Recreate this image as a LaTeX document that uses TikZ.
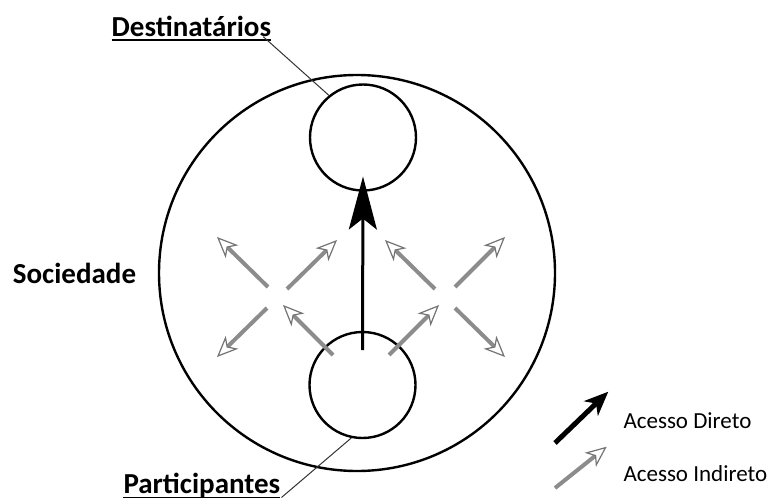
\documentclass[tikz,border=0pt]{standalone}
\usepackage{fontspec}
\setmainfont{Carlito}
\usetikzlibrary{arrows.meta,calc}
\definecolor{arrgray}{RGB}{140,140,140}
\definecolor{headgray}{RGB}{115,115,115}
\begin{document}
\begin{tikzpicture}[x=1pt,y=-1pt,
  ring/.style={circle,draw=black,line width=2.4pt,inner sep=0pt},
  lbl/.style={anchor=base west,inner sep=0pt,font=\fontsize{29}{30}\selectfont\bfseries},
  leg/.style={anchor=base west,inner sep=0pt,font=\fontsize{23}{26}\selectfont},
  leader/.style={draw=black!80,line width=1pt},
  uline/.style={draw=black,line width=1.5pt},
  mainarr/.style={draw=black,line width=3pt,-{Stealth[length=53pt,width=28pt,inset=11pt]}},
  legmain/.style={draw=black,line width=5pt,-{Stealth[length=24pt,width=20pt,inset=7pt]}},
  indarr/.style={draw=arrgray,line width=4pt,-{Stealth[open,fill=white,length=21pt,width=18pt,inset=6pt,line width=1.2pt,color=headgray]}}
]
\useasboundingbox (0,0) rectangle (773,500);
% circles
\node[ring,minimum size=396pt] (soc) at (357,273) {};
\node[ring,minimum size=106pt] (top) at (363,137.5) {};
\node[ring,minimum size=106pt] (bot) at (362.5,385) {};
% labels
\node[lbl] (dest) at (111.5,36.7) {Destinatários};
\node[lbl] (part) at (123.3,493) {Participantes};
\node[lbl] (socl) at (12.7,283.3) {Sociedade};
\node[leg] (dir) at (623.3,428.3) {Acesso Direto};
\node[leg] (ind) at (623.3,481.7) {Acesso Indireto};
% underlines and leaders
\draw[uline] ($(dest.base west)+(0,3.5)$) -- ($(dest.base east)+(0,3.5)$);
\draw[uline] ($(part.base west)+(0,4.5)$) -- ($(part.base east)+(0,4.5)$);
\draw[leader] ($(dest.base east)+(-8,0)$) -- (top.129);
\draw[leader] ($(part.base east)+(1,4.5)$) -- (bot.258.5);
% direct access
\coordinate (ms) at ($(bot.center)+(0,-35)$);
\coordinate (me) at ($(top.center)+(0,39)$);
\draw[mainarr] (ms) -- (me);
% indirect access arrows
\coordinate (a1s) at (268,287); \coordinate (a1e) at (217,237);
\coordinate (a2s) at (287,289); \coordinate (a2e) at (337,240);
\coordinate (a3s) at (267,308); \coordinate (a3e) at (217,357);
\coordinate (a4s) at (333,355); \coordinate (a4e) at (283,305);
\coordinate (b1s) at (435,289); \coordinate (b1e) at (385,240);
\coordinate (b2s) at (455,287); \coordinate (b2e) at (505,237);
\coordinate (b3s) at (455,308); \coordinate (b3e) at (505,357);
\coordinate (b4s) at (389,355); \coordinate (b4e) at (439,305);
\foreach \n in {a1,a2,a3,a4,b1,b2,b3,b4}{\draw[indarr] (\n s) -- (\n e);}
% legend arrows
\coordinate (l1s) at (555,443); \coordinate (l1e) at (608.3,391.7);
\coordinate (l2s) at (555,488); \coordinate (l2e) at (606.7,446.7);
\draw[legmain] (l1s) -- (l1e);
\draw[indarr] (l2s) -- (l2e);
\end{tikzpicture}
\end{document}
